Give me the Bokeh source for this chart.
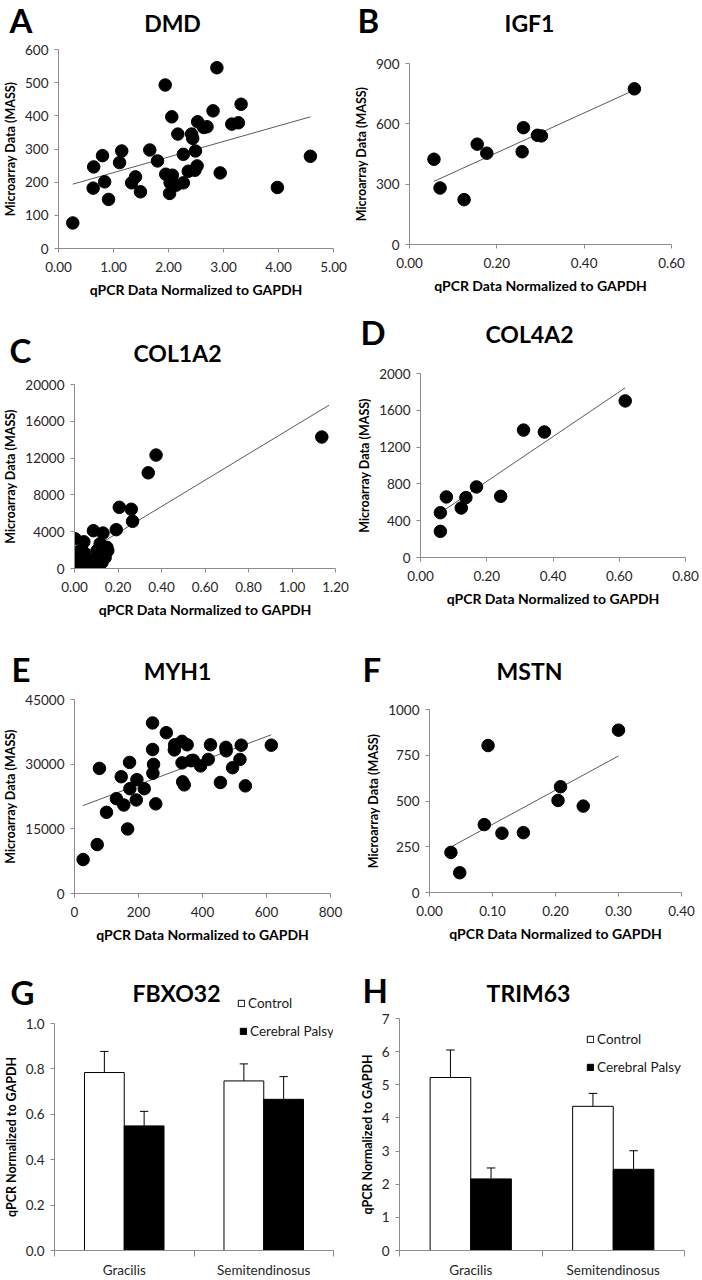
from bokeh.plotting import figure
from bokeh.layouts import column, row
from bokeh.models import (Range1d, FixedTicker, NumeralTickFormatter, Label, Legend,
                          LegendItem, CustomJSTickFormatter)
from bokeh.embed import file_html
from bokeh.resources import INLINE

# ---------------- data ----------------
dmd_x = [0.26, 0.63, 0.64, 0.80, 0.84, 0.91, 1.11, 1.15, 1.33, 1.40, 1.49, 1.66, 1.80, 1.94, 1.95,
         2.02, 2.03, 2.06, 2.07, 2.14, 2.17, 2.27, 2.27, 2.36, 2.42, 2.44, 2.49, 2.48, 2.52, 2.53,
         2.64, 2.70, 2.81, 2.88, 2.94, 3.15, 3.27, 3.32, 3.98, 4.58]
dmd_y = [77, 182, 246, 280, 201, 148, 259, 294, 198, 216, 171, 297, 264, 493, 224,
         166, 198, 397, 221, 191, 345, 198, 284, 233, 345, 332, 294, 236, 249, 382,
         365, 367, 415, 545, 228, 375, 379, 435, 184, 278]
dmd_fit_x = [0.26, 4.58]
dmd_fit_y = [194, 397]

igf1_x = [0.056, 0.070, 0.125, 0.155, 0.177, 0.258, 0.261, 0.293, 0.302, 0.515]
igf1_y = [424, 281, 223, 499, 454, 461, 581, 543, 540, 774]
igf1_fit_x = [0.056, 0.515]
igf1_fit_y = [314, 768]

col1a2_x = [0.002, 0.006, 0.015, 0.021, 0.024, 0.021, 0.030, 0.036, 0.043, 0.045, 0.050, 0.055,
            0.066, 0.070, 0.087, 0.090, 0.093, 0.104, 0.111, 0.118, 0.126, 0.131, 0.132, 0.141,
            0.149, 0.153, 0.192, 0.206, 0.261, 0.267, 0.339, 0.375, 1.137]
col1a2_y = [3240, 750, 1100, 1400, 1900, 300, 600, 450, 2900, 1700, 1150, 800,
            300, 900, 4110, 500, 850, 1950, 1400, 2700, 650, 3850, 1000, 1200,
            2300, 1950, 4220, 6650, 6440, 5130, 10400, 12330, 14290]
col1a2_fit_x = [0.002, 1.17]
col1a2_fit_y = [1046, 17750]

col4a2_x = [0.060, 0.060, 0.078, 0.123, 0.137, 0.169, 0.242, 0.311, 0.374, 0.618]
col4a2_y = [284, 487, 658, 538, 651, 767, 665, 1385, 1364, 1702]
col4a2_fit_x = [0.060, 0.618]
col4a2_fit_y = [487, 1844]

myh1_x = [27, 71, 78, 100, 131, 146, 154, 166, 172, 173, 193, 195, 218, 244, 244, 247, 245, 254,
          287, 313, 312, 336, 336, 338, 343, 352, 365, 371, 394, 418, 425, 456, 473, 474, 494,
          517, 521, 534, 615]
myh1_y = [7870, 11350, 29020, 18830, 22000, 27090, 20530, 14970, 30410, 24310, 21700, 26400,
          24310, 39560, 33400, 29950, 27900, 20800, 37300, 34500, 33300, 35300, 30300, 25900,
          25200, 34500, 30800, 30900, 29600, 31100, 34500, 25750, 33900, 33100, 29180, 31100,
          34400, 24970, 34400]
myh1_fit_x = [26, 615]
myh1_fit_y = [20378, 36818]

mstn_x = [0.034, 0.048, 0.087, 0.093, 0.115, 0.149, 0.204, 0.208, 0.244, 0.300]
mstn_y = [219, 108, 371, 803, 324, 327, 503, 578, 472, 887]
mstn_fit_x = [0.034, 0.300]
mstn_fit_y = [249, 746]

muscles = ["Gracilis", "Semitendinosus"]
groups = ["Control", "Cerebral Palsy"]
fbxo32_control = [0.784, 0.747]
fbxo32_control_err = [0.093, 0.075]
fbxo32_cp = [0.549, 0.666]
fbxo32_cp_err = [0.064, 0.100]
trim63_control = [5.22, 4.35]
trim63_control_err = [0.83, 0.39]
trim63_cp = [2.16, 2.45]
trim63_cp_err = [0.33, 0.56]

X_TITLE = "qPCR Data Normalized to GAPDH"
Y_TITLE = "Microarray Data (MASS)"
BAR_Y_TITLE = "qPCR Normalized to GAPDH"

FONT = "Lato"
AXIS_GREY = "#8c8c8c"
W = 351
COL_LEFT = [0, 351]
ROW_TOP = [0, 300, 620, 960]
ROW_H = [300, 320, 340, 320]
TS = 23   # gene title size (px)
LS = 33   # panel letter size (px)
BASELINE_FIX = 0.4   # text box offset of Label baseline, in em
BAR_OFF = 0.1425
BAR_W = 0.285


def clean(p):
    p.title.visible = False
    p.outline_line_color = None
    p.background_fill_color = "white"
    p.border_fill_color = "white"
    p.frame_align = False


def make_legend(items, loc):
    return Legend(items=items, location=loc,
                  background_fill_alpha=0, border_line_alpha=0, padding=0, margin=0,
                  spacing=12, glyph_width=8, glyph_height=8, label_standoff=3,
                  label_height=16, label_text_font=FONT, label_text_font_size="13.5px",
                  label_text_color="#1a1a1a", inactive_fill_alpha=0)


def header(r, c, hh, letter, lpos, gene, gpos, legend_item=None):
    """Strip above a panel holding the panel letter and the gene name."""
    p = figure(width=W, height=hh, x_axis_type=None, y_axis_type=None,
               x_range=Range1d(0, 1), y_range=Range1d(0, 1),
               min_border=0, output_backend="svg", toolbar_location=None)
    clean(p)
    bottom = ROW_TOP[r] + hh
    for text, (px, py), size, align in ((letter, lpos, LS, "left"), (gene, gpos, TS, "center")):
        p.add_layout(Label(x=px - COL_LEFT[c], y=bottom - py + BASELINE_FIX * size,
                           x_units="screen", y_units="screen",
                           text=text, text_font=FONT, text_font_style="bold",
                           text_font_size=f"{size}px", text_align=align,
                           text_baseline="alphabetic", text_color="black"))
    if legend_item is not None:
        label, style, vals, px, py = legend_item
        # key for the legend entry: the same series, kept hidden in this strip
        xs = [i + 0.5 - BAR_OFF for i in range(len(vals))]
        rr = p.vbar(x=xs, top=vals, width=BAR_W, visible=False, **style)
        p.add_layout(make_legend([LegendItem(label=label, renderers=[rr])],
                                 (px - COL_LEFT[c], bottom - py)))
    return p


def base_fig(r, c, hh, borders, xr, yr):
    bl, br, bt, bb = borders
    p = figure(width=W, height=ROW_H[r] - hh, min_border_left=bl, min_border_right=br,
               min_border_top=bt, min_border_bottom=bb,
               x_range=Range1d(*xr), y_range=Range1d(*yr),
               output_backend="svg", toolbar_location=None)
    clean(p)
    p.xgrid.grid_line_color = None
    p.ygrid.grid_line_color = None
    for ax in list(p.xaxis) + list(p.yaxis):
        ax.axis_line_color = AXIS_GREY
        ax.major_tick_line_color = AXIS_GREY
        ax.major_tick_out = 4
        ax.major_tick_in = 0
        ax.minor_tick_line_color = None
        ax.major_label_text_font = FONT
        ax.major_label_text_font_size = "13.5px"
        ax.major_label_text_color = "#262626"
        ax.axis_label_text_font = FONT
        ax.axis_label_text_font_style = "bold"
        ax.axis_label_text_color = "black"
        ax.axis_label_standoff = 4
    p.xaxis.major_label_standoff = 9
    p.xaxis.axis_label_standoff = 6
    p.yaxis.major_label_standoff = 6
    p.xaxis.axis_label_text_font_size = "14px"
    p.yaxis.axis_label_text_font_size = "12.5px"
    fl = COL_LEFT[c] + bl
    fb = ROW_TOP[r] + ROW_H[r] - bb
    return p, fl, fb


def scatter_panel(r, c, hh, borders, xs, ys, fx, fy, xr, xticks, xfmt, yr, yticks):
    p, fl, fb = base_fig(r, c, hh, borders, xr, yr)
    p.xaxis.ticker = FixedTicker(ticks=xticks)
    p.xaxis.formatter = NumeralTickFormatter(format=xfmt)
    p.yaxis.ticker = FixedTicker(ticks=yticks)
    p.yaxis.formatter = NumeralTickFormatter(format="0")
    p.xaxis.axis_label = X_TITLE
    p.yaxis.axis_label = Y_TITLE
    p.line(fx, fy, line_color="#5a5a5a", line_width=1)
    p.scatter(xs, ys, size=12.5, fill_color="black", line_color="black")
    return p


CTRL_STYLE = dict(fill_color="white", line_color="black", line_width=1)
CP_STYLE = dict(fill_color="black", line_color="black", line_width=1)


def bar_panel(r, c, hh, borders, ctrl, ctrl_err, cp, cp_err, yr, yticks, yfmt,
              legend_groups, legend_pos):
    p, fl, fb = base_fig(r, c, hh, borders, (0, len(muscles)), yr)
    p.yaxis.ticker = FixedTicker(ticks=yticks)
    p.yaxis.formatter = NumeralTickFormatter(format=yfmt)
    p.yaxis.axis_label = BAR_Y_TITLE
    xa = p.xaxis[0]
    xa.axis_label = None
    xa.ticker = FixedTicker(ticks=[i + 0.5 for i in range(len(muscles))],
                            minor_ticks=list(range(len(muscles) + 1)))
    xa.formatter = CustomJSTickFormatter(args=dict(cats=muscles),
                                         code="return cats[Math.floor(tick)];")
    xa.major_tick_out = 0
    xa.minor_tick_line_color = AXIS_GREY
    xa.minor_tick_out = 6
    xa.minor_tick_in = 0
    xa.major_label_standoff = 5

    xc = [i + 0.5 - BAR_OFF for i in range(len(muscles))]
    xp = [i + 0.5 + BAR_OFF for i in range(len(muscles))]
    r1 = p.vbar(x=xc, top=ctrl, width=BAR_W, **CTRL_STYLE)
    r2 = p.vbar(x=xp, top=cp, width=BAR_W, **CP_STYLE)
    for xs, vals, errs in ((xc, ctrl, ctrl_err), (xp, cp, cp_err)):
        tops = [v + e for v, e in zip(vals, errs)]
        p.segment(x0=xs, y0=vals, x1=xs, y1=tops, line_color="black", line_width=1)
        p.segment(x0=[x - 0.03 for x in xs], y0=tops, x1=[x + 0.03 for x in xs], y1=tops,
                  line_color="black", line_width=1)
    rend = {groups[0]: r1, groups[1]: r2}
    items = [LegendItem(label=g, renderers=[rend[g]]) for g in legend_groups]
    p.add_layout(make_legend(items, (legend_pos[0] - fl, fb - legend_pos[1])))
    return p


# panel A / B
hA = header(0, 0, 41, "A", (9, 33), "DMD", (172, 32))
pA = scatter_panel(0, 0, 41, (54, 18, 8, 52), dmd_x, dmd_y, dmd_fit_x, dmd_fit_y,
                   (0, 5), [0, 1, 2, 3, 4, 5], "0.00", (0, 600), [0, 100, 200, 300, 400, 500, 600])
hB = header(0, 1, 41, "B", (357, 33), "IGF1", (529, 32))
pB = scatter_panel(0, 1, 41, (52, 31, 22, 56), igf1_x, igf1_y, igf1_fit_x, igf1_fit_y,
                   (0, 0.6), [0, 0.2, 0.4, 0.6], "0.00", (0, 900), [0, 300, 600, 900])
# panel C / D
hC = header(1, 0, 72, "C", (9, 363), "COL1A2", (177, 361.7))
pC = scatter_panel(1, 0, 72, (69, 16, 12, 52), col1a2_x, col1a2_y, col1a2_fit_x, col1a2_fit_y,
                   (0, 1.2), [0, 0.2, 0.4, 0.6, 0.8, 1.0, 1.2], "0.00",
                   (0, 20000), [0, 4000, 8000, 12000, 16000, 20000])
hD = header(1, 1, 58, "D", (360, 345), "COL4A2", (529, 343))
pD = scatter_panel(1, 1, 58, (69, 17, 15, 63), col4a2_x, col4a2_y, col4a2_fit_x, col4a2_fit_y,
                   (0, 0.8), [0, 0.2, 0.4, 0.6, 0.8], "0.00",
                   (0, 2000), [0, 400, 800, 1200, 1600, 2000])
# panel E / F
hE = header(2, 0, 70, "E", (11, 681.7), "MYH1", (177, 680))
pE = scatter_panel(2, 0, 70, (72, 21, 9, 67), myh1_x, myh1_y, myh1_fit_x, myh1_fit_y,
                   (0, 800), [0, 200, 400, 600, 800], "0",
                   (0, 45000), [0, 15000, 30000, 45000])
hF = header(2, 1, 70, "F", (362, 681.7), "MSTN", (529, 680))
pF = scatter_panel(2, 1, 70, (78, 21, 19, 68), mstn_x, mstn_y, mstn_fit_x, mstn_fit_y,
                   (0, 0.4), [0, 0.1, 0.2, 0.3, 0.4], "0.00",
                   (0, 1000), [0, 250, 500, 750, 1000])
# panel G / H
hG = header(3, 0, 53, "G", (10, 1005), "FBXO32", (176, 1001.7),
            legend_item=(groups[0], CTRL_STYLE, fbxo32_control, 237, 1011))
pG = bar_panel(3, 0, 53, (52, 18, 10, 29), fbxo32_control, fbxo32_control_err, fbxo32_cp,
               fbxo32_cp_err, (0, 1.0), [0, 0.2, 0.4, 0.6, 0.8, 1.0], "0.0",
               [groups[1]], (237, 1040))
hH = header(3, 1, 50, "H", (362, 1003), "TRIM63", (528, 1001.7))
pH = bar_panel(3, 1, 50, (48, 18, 8, 29), trim63_control, trim63_control_err, trim63_cp,
               trim63_cp_err, (0, 7), [0, 1, 2, 3, 4, 5, 6, 7], "0",
               groups, (586, 1076))

layout = column(row(column(hA, pA), column(hB, pB)),
                row(column(hC, pC), column(hD, pD)),
                row(column(hE, pE), column(hF, pF)),
                row(column(hG, pG), column(hH, pH)))
open("out.html", "w").write(file_html(layout, INLINE))
